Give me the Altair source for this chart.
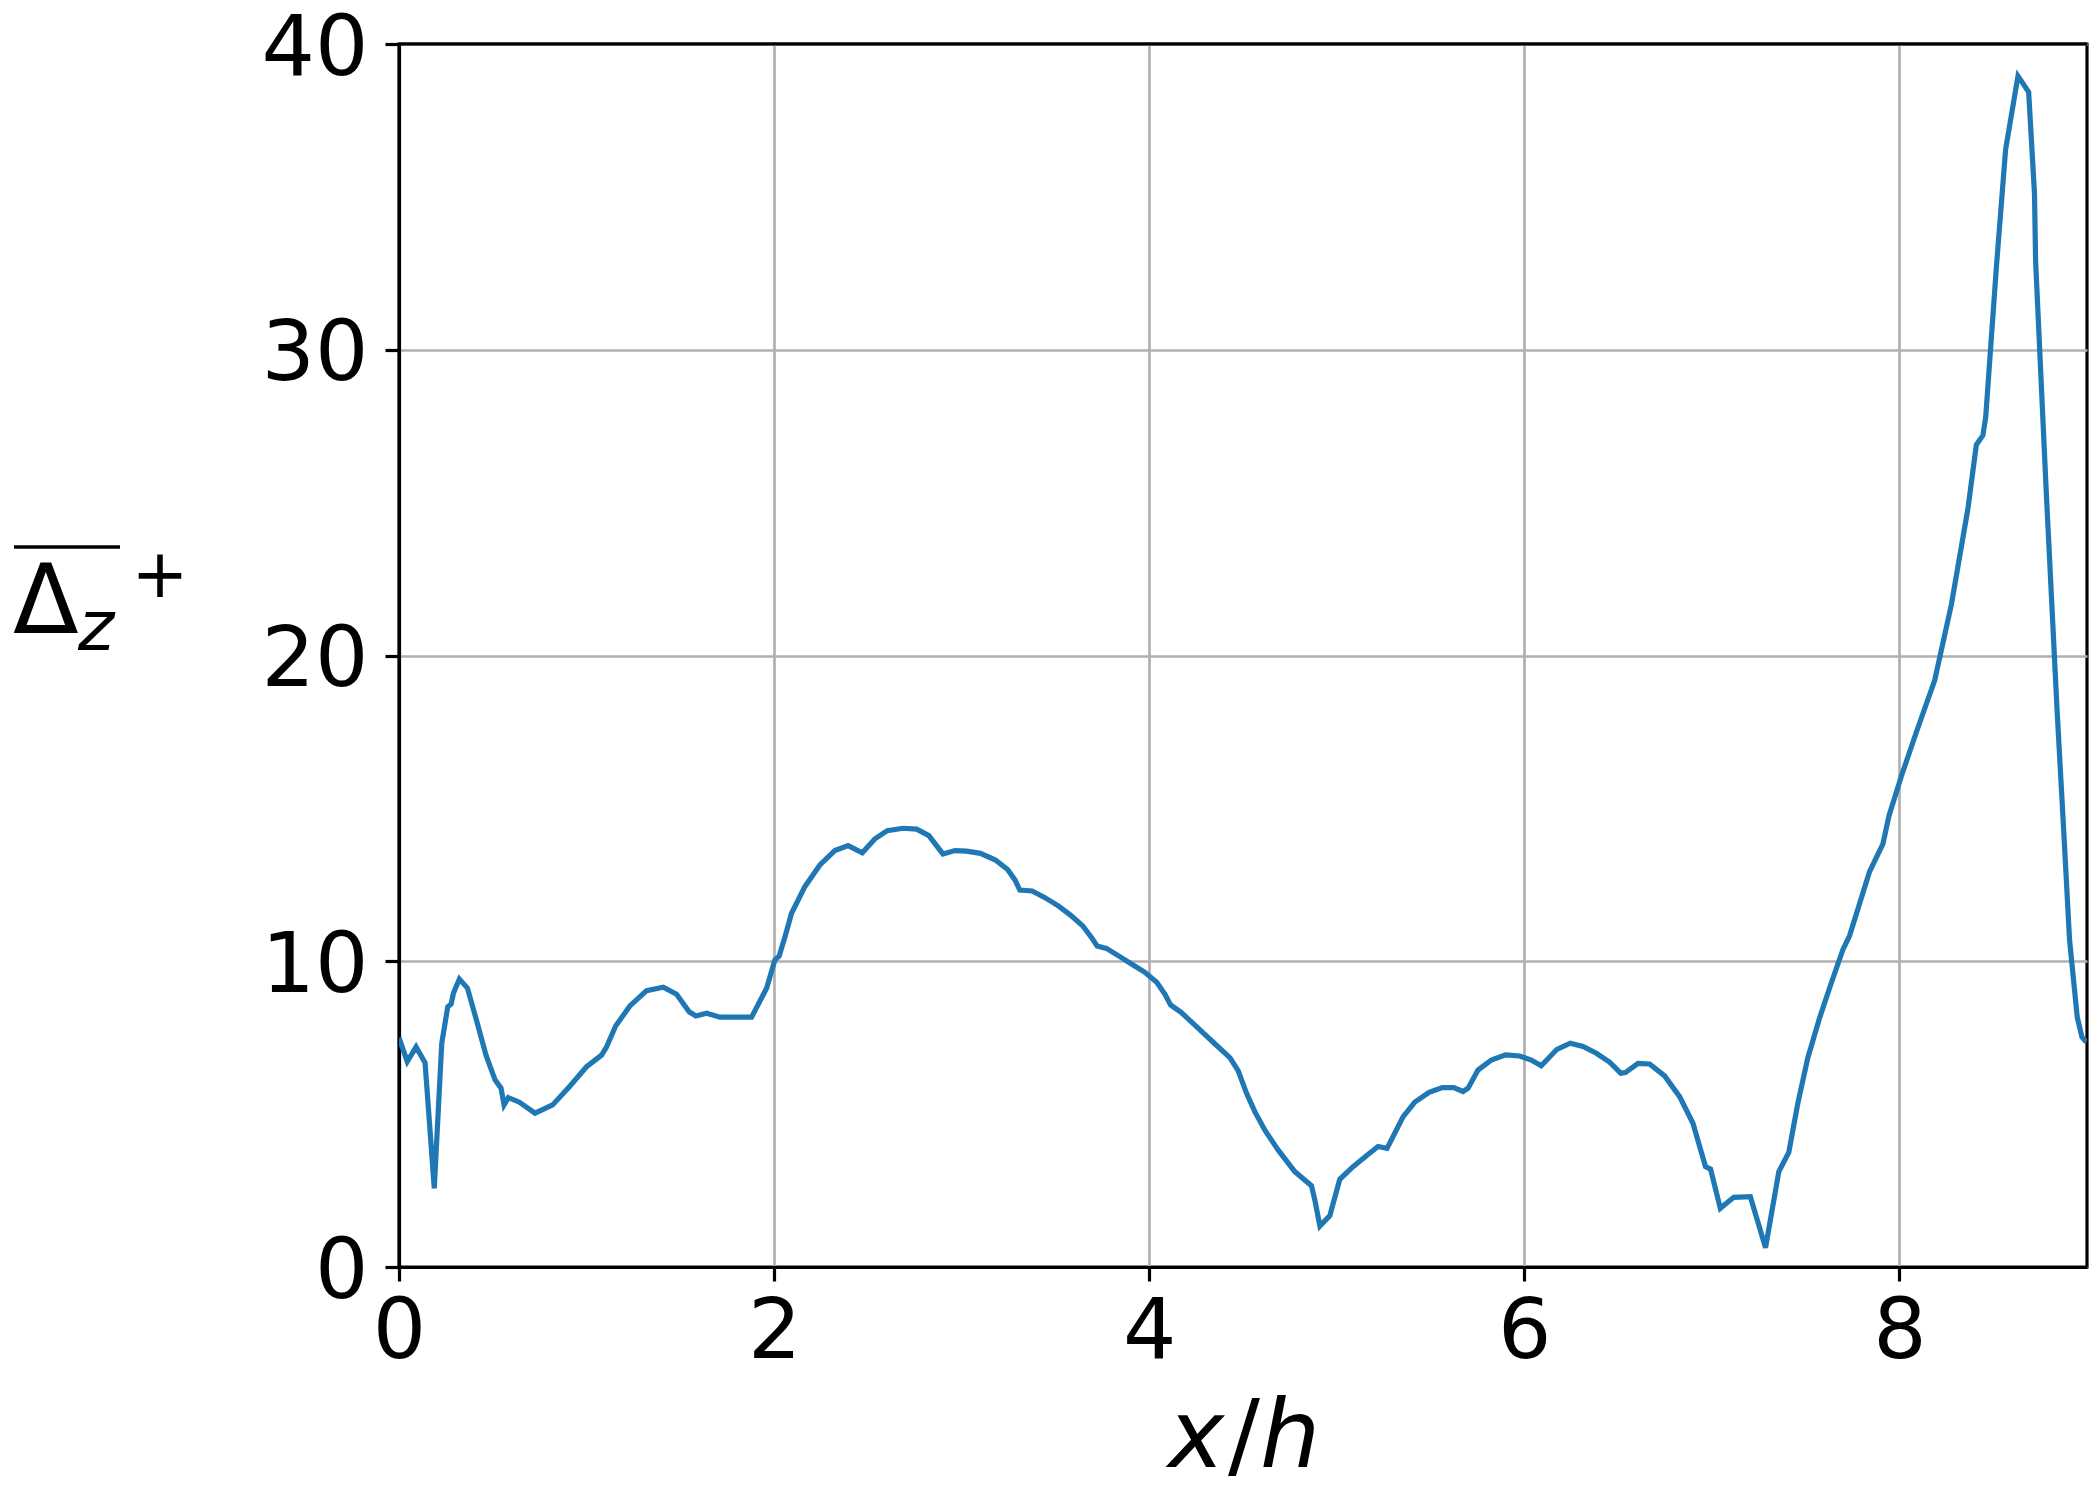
import altair as alt
import pandas as pd

x_over_h = [
    0.0, 0.044, 0.091, 0.139, 0.188, 0.228, 0.26, 0.278, 0.29, 0.322, 0.365, 0.415,
    0.464, 0.512, 0.544, 0.56, 0.583, 0.642, 0.725, 0.819, 0.912, 1.0, 1.08, 1.107,
    1.155, 1.231, 1.32, 1.409, 1.48, 1.547, 1.583, 1.64, 1.711, 1.88, 1.96, 2.004,
    2.027, 2.058, 2.093, 2.164, 2.244, 2.324, 2.395, 2.47, 2.537, 2.603, 2.688, 2.76,
    2.825, 2.87, 2.9, 2.964, 3.026, 3.1, 3.18, 3.245, 3.284, 3.31, 3.376, 3.444,
    3.515, 3.58, 3.645, 3.692, 3.722, 3.772, 3.843, 3.914, 3.977, 4.04, 4.084, 4.114,
    4.17, 4.252, 4.341, 4.43, 4.474, 4.519, 4.563, 4.616, 4.687, 4.776, 4.865, 4.883,
    4.91, 4.963, 5.016, 5.087, 5.158, 5.22, 5.268, 5.354, 5.416, 5.492, 5.563, 5.624,
    5.673, 5.7, 5.753, 5.824, 5.9, 5.975, 6.037, 6.09, 6.174, 6.245, 6.313, 6.384,
    6.455, 6.514, 6.539, 6.606, 6.668, 6.748, 6.828, 6.899, 6.966, 6.993, 7.045, 7.116,
    7.205, 7.286, 7.357, 7.41, 7.458, 7.511, 7.574, 7.636, 7.698, 7.734, 7.84, 7.912,
    7.944, 8.01, 8.09, 8.188, 8.277, 8.365, 8.41, 8.445, 8.46, 8.516, 8.566, 8.632,
    8.689, 8.72, 8.726, 8.783, 8.84, 8.875, 8.907, 8.948, 8.973, 8.996,
]
delta_z_plus = [
    7.5, 6.72, 7.2, 6.68, 2.57, 7.32, 8.51, 8.6, 8.95, 9.42, 9.12, 8.03,
    6.93, 6.12, 5.85, 5.3, 5.54, 5.39, 5.03, 5.3, 5.92, 6.55, 6.93, 7.2,
    7.88, 8.54, 9.04, 9.15, 8.92, 8.35, 8.21, 8.3, 8.17, 8.17, 9.12, 10.04,
    10.17, 10.8, 11.57, 12.44, 13.15, 13.62, 13.78, 13.55, 14.0, 14.27, 14.35, 14.32,
    14.11, 13.75, 13.51, 13.62, 13.6, 13.53, 13.31, 13.0, 12.66, 12.33, 12.3, 12.08,
    11.81, 11.51, 11.16, 10.78, 10.5, 10.42, 10.15, 9.88, 9.64, 9.31, 8.92, 8.57,
    8.33, 7.86, 7.35, 6.85, 6.42, 5.68, 5.08, 4.48, 3.83, 3.12, 2.66, 2.19,
    1.34, 1.68, 2.87, 3.28, 3.64, 3.94, 3.88, 4.92, 5.39, 5.71, 5.87, 5.87,
    5.74, 5.85, 6.44, 6.77, 6.94, 6.9, 6.77, 6.58, 7.12, 7.32, 7.21, 6.99,
    6.7, 6.34, 6.36, 6.66, 6.64, 6.25, 5.57, 4.7, 3.28, 3.2, 1.92, 2.28,
    2.3, 0.63, 3.12, 3.75, 5.35, 6.83, 8.14, 9.28, 10.37, 10.83, 12.92, 13.84,
    14.75, 16.05, 17.49, 19.19, 21.67, 24.8, 26.89, 27.2, 27.8, 32.63, 36.55, 38.95,
    38.43, 35.11, 32.9, 25.32, 18.27, 14.36, 10.7, 8.17, 7.52, 7.36,
]
x_ticks = [0, 2, 4, 6, 8]
y_ticks = [0, 10, 20, 30, 40]

df = pd.DataFrame({"x": x_over_h, "y": delta_z_plus})
one = pd.DataFrame({"k": [0]})

W, H = 1688, 1223
FONT = "DejaVu Sans"
SPINE = 3.2

line = alt.Chart(df).mark_line(color="#1f77b4", strokeWidth=5.2, clip=True).encode(
    x=alt.X("x:Q", scale=alt.Scale(domain=[0, 9], nice=False, zero=False),
            axis=alt.Axis(values=x_ticks, title=None, format="d", labelPadding=10,
                          labelFlush=False)),
    y=alt.Y("y:Q", scale=alt.Scale(domain=[0, 40], nice=False),
            axis=alt.Axis(values=y_ticks, title=None, format="d", labelPadding=17,
                          labelOffset=5, labelFlush=False)),
)


def txt(s, x, y, size, style="normal", align="left"):
    return alt.Chart(one).mark_text(
        text=s, font=FONT, fontSize=size, fontStyle=style, align=align,
        baseline="alphabetic", color="black",
    ).encode(x=alt.value(x), y=alt.value(y))


# x-axis title "x/h" (mathtext style: italic x and h, upright slash)
t_x = txt("x", 797, 1423, 95, style="italic", align="center")
t_sl = txt("/", 845, 1423, 95, align="center")
t_h = txt("h", 891, 1423, 95, style="italic", align="center")

# y-axis title: overlined Delta_z, superscript +
delta = txt("Δ", -386, 589, 96)
zsub = txt("z", -321, 606, 69, style="italic")
plus = txt("+", -239, 553, 68, align="center")
overbar = alt.Chart(one).mark_rule(color="black", strokeWidth=3.5).encode(
    x=alt.value(-385), x2=alt.value(-279), y=alt.value(503)
)

# top spine drawn over the 40 grid line
top_spine = alt.Chart(one).mark_rule(color="black", strokeWidth=SPINE).encode(
    x=alt.value(0), x2=alt.value(W), y=alt.value(0)
)

chart = alt.layer(line, top_spine, t_x, t_sl, t_h, delta, zsub, plus, overbar).properties(
    width=W, height=H,
    autosize=alt.AutoSizeParams(type="none"),
    padding={"left": 391, "top": 36, "right": 5, "bottom": 222},
    background="white",
).configure_axis(
    labelFont=FONT, labelFontSize=84, labelColor="black",
    tickColor="black", tickSize=14, tickWidth=SPINE,
    domainColor="black", domainWidth=SPINE,
    grid=True, gridColor="#b0b0b0", gridWidth=2.7,
).configure_view(stroke="black", strokeWidth=SPINE)

chart.save("out.html", embed_options={"renderer": "svg", "actions": False})
